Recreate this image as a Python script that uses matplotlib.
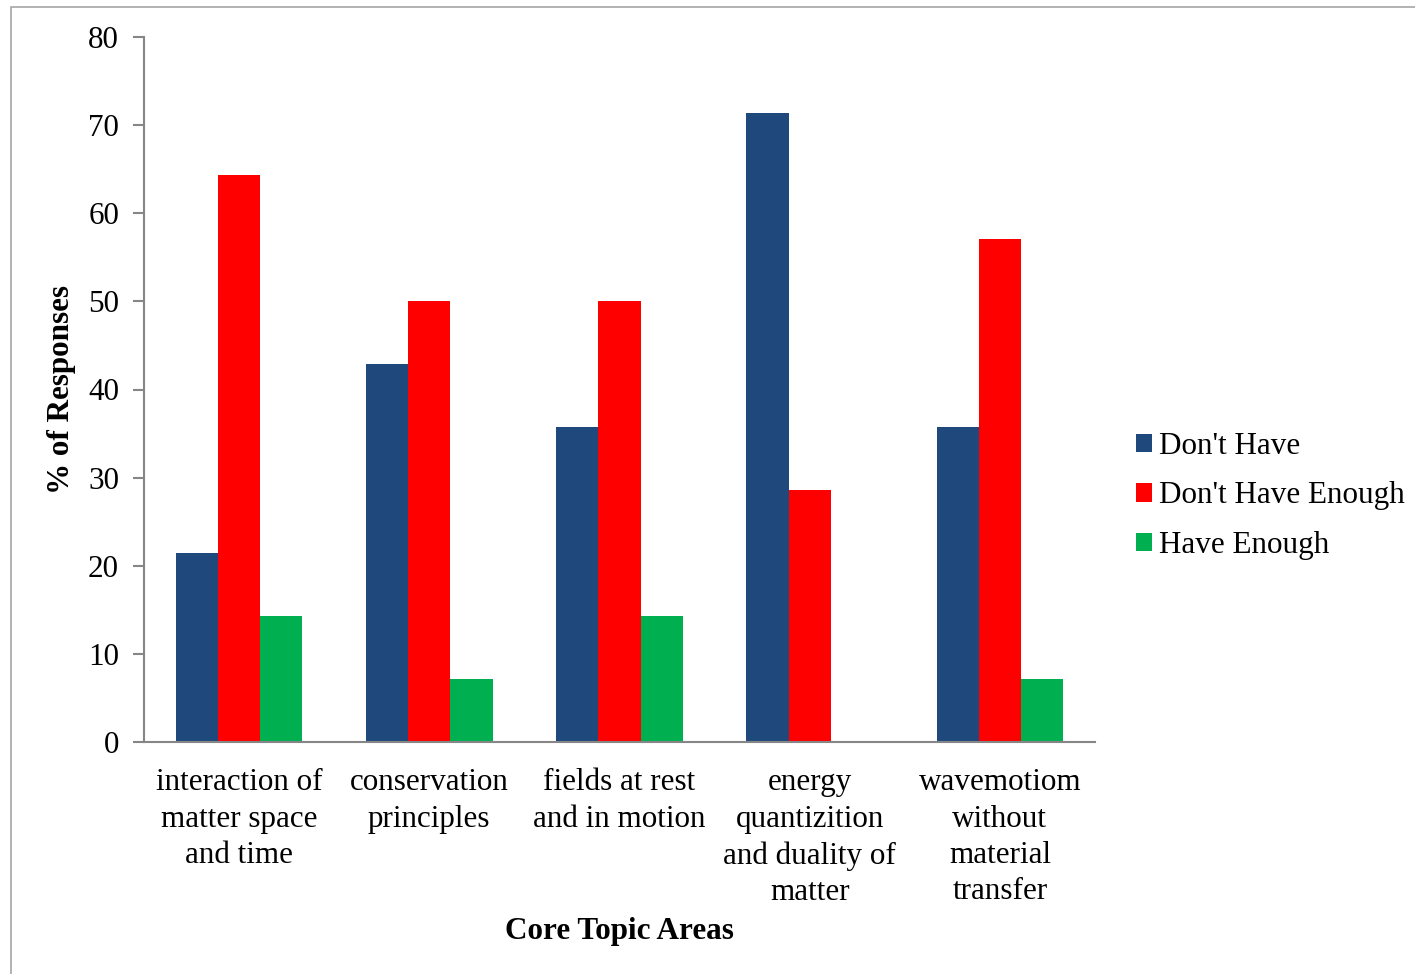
import matplotlib.pyplot as plt
import numpy as np
from matplotlib.patches import Rectangle

plt.rcParams['font.family'] = ['Liberation Serif', 'DejaVu Serif']

topics = ['interaction of\nmatter space\nand time',
          'conservation\nprinciples',
          'fields at rest\nand in motion',
          'energy\nquantizition\nand duality of\nmatter',
          'wavemotiom\nwithout\nmaterial\ntransfer']
dont_have = [21.4, 42.9, 35.7, 71.4, 35.7]
dont_have_enough = [64.3, 50.0, 50.0, 28.6, 57.1]
have_enough = [14.3, 7.1, 14.3, 0.0, 7.1]

series = ["Don't Have", "Don't Have Enough", 'Have Enough']
colors = ['#1F497D', '#FF0000', '#00B050']

W, H = 1415, 974
FS = 22.4
fig = plt.figure(figsize=(W / 100, H / 100), dpi=100)
ax = fig.add_axes([144 / W, 1 - 742 / H, (1095 - 144) / W, (742 - 37) / H])

# thin grey frame of the chart area (cut off at right/bottom)
fig.patches.append(Rectangle((11 / W, -0.1), 1.2, 1 - 7 / H + 0.1,
                             transform=fig.transFigure, fill=False,
                             edgecolor='#A6A6A6', linewidth=1.2))

x = np.arange(len(topics))
width = 0.222
for i, (vals, lab, c) in enumerate(zip([dont_have, dont_have_enough, have_enough], series, colors)):
    ax.bar(x + (i - 1) * width, vals, width, color=c, label=lab)

ax.set_xlim(-0.5, len(topics) - 0.5)
ax.set_ylim(0, 80)
ax.set_yticks(np.arange(0, 81, 10))
ax.set_xticks(x)
ax.set_xticklabels(topics, linespacing=1.33)

for s in ['top', 'right']:
    ax.spines[s].set_visible(False)
for s in ['left', 'bottom']:
    ax.spines[s].set_color('#868686')
    ax.spines[s].set_linewidth(1.5)
ax.tick_params(axis='y', labelsize=FS, length=8, width=1.5, color='#868686', pad=10)
ax.tick_params(axis='x', labelsize=FS, length=0, pad=19)

fig.text(62 / W, 1 - 390 / H, '% of Responses', fontsize=FS, fontweight='bold',
         rotation=90, ha='center', va='center')
fig.text(619 / W, 1 - 932 / H, 'Core Topic Areas', fontsize=FS, fontweight='bold',
         ha='center', va='center')

fig.legend(loc='center left', bbox_to_anchor=(1136 / W, 1 - 496 / H), frameon=False,
           fontsize=FS, handlelength=0.52, handleheight=0.52, handletextpad=0.22,
           labelspacing=0.66, borderpad=0, borderaxespad=0)

fig.savefig('out.png', dpi=100)
